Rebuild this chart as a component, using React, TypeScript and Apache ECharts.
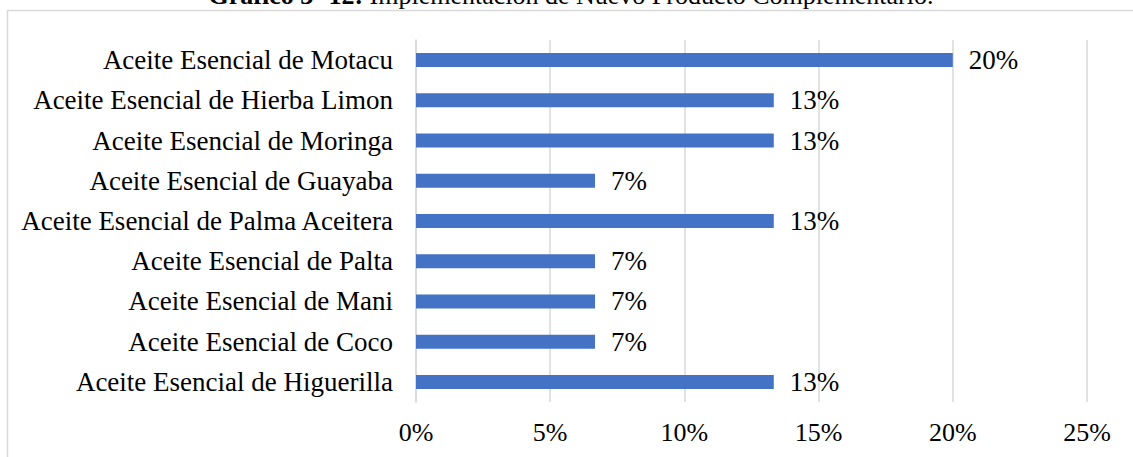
import React, { useEffect, useRef } from "react";
import * as echarts from "echarts";

const categories = [
  "Aceite Esencial de Motacu",
  "Aceite Esencial de Hierba Limon",
  "Aceite Esencial de Moringa",
  "Aceite Esencial de Guayaba",
  "Aceite Esencial de Palma Aceitera",
  "Aceite Esencial de Palta",
  "Aceite Esencial de Mani",
  "Aceite Esencial de Coco",
  "Aceite Esencial de Higuerilla",
];
const values = [20, 13.33, 13.33, 6.67, 13.33, 6.67, 6.67, 6.67, 13.33];
const valueLabels = ["20%", "13%", "13%", "7%", "13%", "7%", "7%", "7%", "13%"];
const xTicks = [0, 5, 10, 15, 20, 25];
const titleBold = "Gráfico 3- 12:";
const titleRest = " Implementación de Nuevo Producto Complementario.";

const FONT = "'Liberation Serif', 'Times New Roman', serif";

export default function App() {
  const ref = useRef<HTMLDivElement>(null);
  useEffect(() => {
    if (!ref.current) return;
    const chart = echarts.init(ref.current, null, { renderer: "svg" });
    chart.setOption({
      animation: false,
      backgroundColor: "#fff",
      textStyle: { fontFamily: FONT },
      graphic: [
        {
          type: "rect",
          shape: { x: 7.5, y: 10.5, width: 1140, height: 460 },
          style: { fill: "none", stroke: "#d9d9d9", lineWidth: 1.5 },
          silent: true,
          z: -1,
        },
        {
          type: "text",
          x: 571,
          y: -5,
          style: {
            text: `{b|${titleBold}}{n|${titleRest}}`,
            align: "center",
            verticalAlign: "middle",
            rich: {
              b: { fontFamily: FONT, fontSize: 26, fontWeight: "bold", fill: "#000" },
              n: { fontFamily: FONT, fontSize: 26, fill: "#000" },
            },
          },
        },
      ],
      grid: { left: 416, right: 46, top: 40, bottom: 55, containLabel: false },
      xAxis: {
        type: "value",
        min: 0,
        max: 25,
        interval: 5,
        axisLine: { show: false },
        axisTick: { show: false },
        splitLine: { show: true, lineStyle: { color: "#d9d9d9", width: 1.5 } },
        axisLabel: {
          margin: 17,
          fontFamily: FONT,
          fontSize: 26,
          color: "#000",
          formatter: (v: number) => (xTicks.includes(v) ? `${v}%` : ""),
        },
      },
      yAxis: {
        type: "category",
        inverse: true,
        data: categories,
        axisLine: { show: true, lineStyle: { color: "#d9d9d9", width: 1.5 } },
        axisTick: { show: false },
        axisLabel: {
          margin: 23,
          fontFamily: FONT,
          fontSize: 27,
          color: "#000",
        },
      },
      series: [
        {
          type: "bar",
          data: values,
          barWidth: 14,
          itemStyle: { color: "#4472c4" },
          label: {
            show: true,
            position: "right",
            distance: 16,
            fontFamily: FONT,
            fontSize: 27,
            color: "#000",
            formatter: (p: any) => valueLabels[p.dataIndex],
          },
        },
      ],
    });
    return () => chart.dispose();
  }, []);
  return <div ref={ref} style={{ width: 1133, height: 457, position: "absolute", left: 0, top: 0 }} />;
}
